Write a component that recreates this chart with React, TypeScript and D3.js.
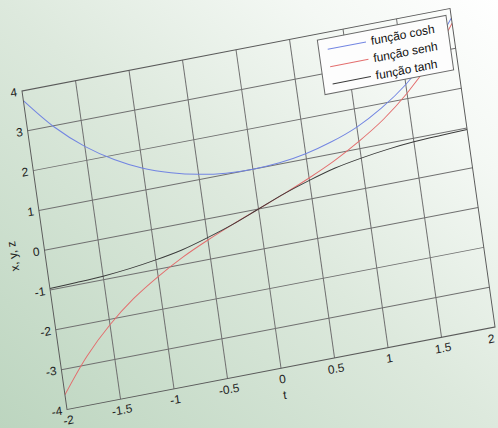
import React from 'react';
import * as d3 from 'd3';

// amostras de t e valores
const tValues = [-2, -1.75, -1.5, -1.25, -1, -0.75, -0.5, -0.25, 0, 0.25, 0.5, 0.75, 1, 1.25, 1.5, 1.75, 2];
const coshValues = [3.76, 2.96, 2.35, 1.89, 1.54, 1.3, 1.13, 1.03, 1, 1.03, 1.13, 1.3, 1.54, 1.89, 2.35, 2.96, 3.76];
const senhValues = [-3.63, -2.79, -2.13, -1.6, -1.18, -0.82, -0.52, -0.25, 0, 0.25, 0.52, 0.82, 1.18, 1.6, 2.13, 2.79, 3.63];
const tanhValues = [-0.96, -0.94, -0.91, -0.85, -0.76, -0.64, -0.46, -0.25, 0, 0.25, 0.46, 0.64, 0.76, 0.85, 0.91, 0.94, 0.96];

const seriesNames = ['função cosh', 'função senh', 'função tanh'];
const seriesColors = ['#7285e2', '#e36d6d', '#3a3a3a'];

const xTicks = [-2, -1.5, -1, -0.5, 0, 0.5, 1, 1.5, 2];
const yTicks = [-4, -3, -2, -1, 0, 1, 2, 3, 4];

const W = 436;
const H = 322;
// the photographed plot is skewed: map the flat plot onto it
const skew = 'matrix(0.9817,-0.1892,0.1398,0.9891,22,91)';

const App = () => {
  const x = d3.scaleLinear().domain([-2, 2]).range([0, W]);
  const y = d3.scaleLinear().domain([-4, 4]).range([H, 0]);

  const series = [coshValues, senhValues, tanhValues].map((vals, i) => ({
    name: seriesNames[i],
    color: seriesColors[i],
    points: tValues.map((t, j) => [t, vals[j]] as [number, number]),
  }));

  const line = d3.line<[number, number]>()
    .x(d => x(d[0]))
    .y(d => y(d[1]))
    .curve(d3.curveCatmullRom);

  const font = '"Liberation Sans", Arial, sans-serif';

  return (
    <svg width={498} height={428} style={{ position: 'absolute', left: 0, top: 0 }}>
      <defs>
        <linearGradient id="bg" x1="0" y1="1" x2="1" y2="0">
          <stop offset="0" stopColor="#bcd5bf" />
          <stop offset="0.5" stopColor="#dde9dd" />
          <stop offset="0.8" stopColor="#f4f8f4" />
          <stop offset="1" stopColor="#ffffff" />
        </linearGradient>
        <clipPath id="plot">
          <rect x={0} y={0} width={W} height={H} />
        </clipPath>
      </defs>
      <rect width={498} height={428} fill="url(#bg)" />

      <g transform={skew} fontFamily={font} fontSize={12} fill="#222">
        {xTicks.slice(1, -1).map(t => (
          <line key={'gx' + t} x1={x(t)} x2={x(t)} y1={0} y2={H} stroke="#707070" strokeWidth={1} />
        ))}
        {yTicks.slice(1, -1).map(v => (
          <line key={'gy' + v} x1={0} x2={W} y1={y(v)} y2={y(v)} stroke="#707070" strokeWidth={1} />
        ))}

        <g clipPath="url(#plot)">
          {series.map(s => (
            <path key={s.name} d={line(s.points) || ''} fill="none" stroke={s.color} strokeWidth={1} />
          ))}
        </g>

        <rect x={0} y={0} width={W} height={H} fill="none" stroke="#5a5a5a" strokeWidth={1} />

        {xTicks.map((t, i) => (
          <text
            key={'xt' + t}
            x={i === xTicks.length - 1 ? x(t) - 2 : x(t)}
            y={H + 15}
            textAnchor={i === xTicks.length - 1 ? 'end' : 'middle'}
          >
            {t}
          </text>
        ))}
        {yTicks.map(v => (
          <text key={'yt' + v} x={-5} y={y(v) + 4} textAnchor="end">{v}</text>
        ))}
        <text x={x(0)} y={H + 31} textAnchor="middle">t</text>
        <text transform={`translate(-28,${H / 2}) rotate(-90)`} textAnchor="middle">x, y, z</text>

        <g transform="translate(300,6)">
          <rect width={131} height={55} fill="#fdfdfd" stroke="#6a6a6a" strokeWidth={1} />
          {series.map((s, i) => (
            <g key={'lg' + s.name} transform={`translate(0,${11 + i * 17.5})`}>
              <line x1={9} x2={48} y1={0} y2={0} stroke={s.color} strokeWidth={1} />
              <text x={53} y={4} fill="#111">{s.name}</text>
            </g>
          ))}
        </g>
      </g>
    </svg>
  );
};

export default App;
